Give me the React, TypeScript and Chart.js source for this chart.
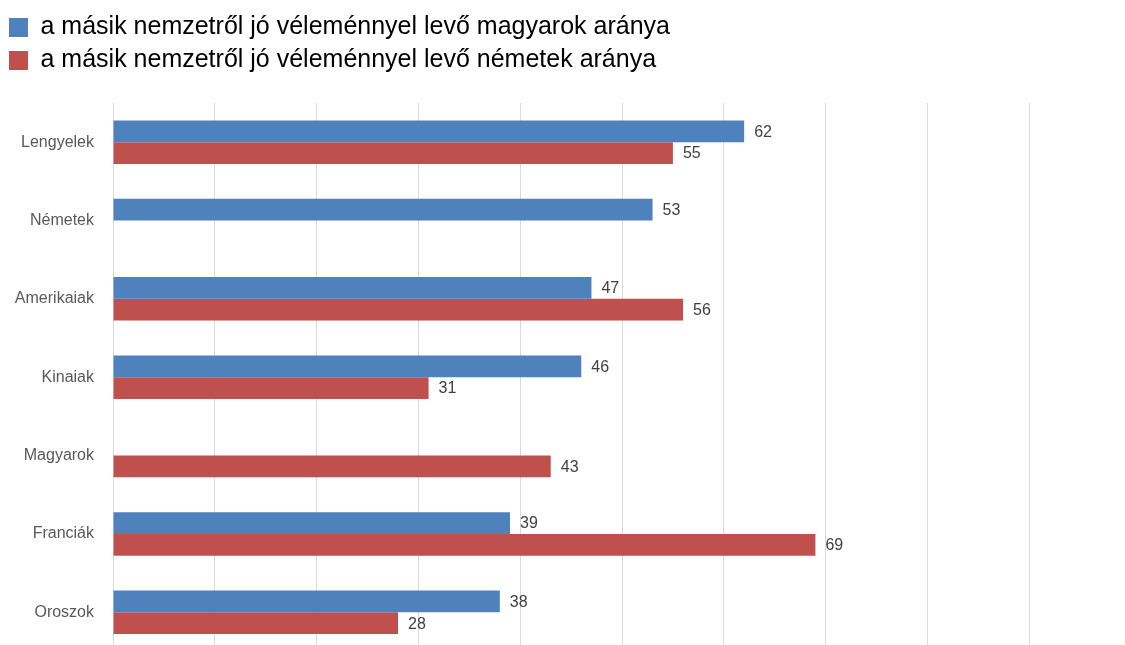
import React, { useEffect, useRef } from "react";
import { Chart, registerables } from "chart.js";

Chart.register(...registerables);

const categories = ["Lengyelek", "Németek", "Amerikaiak", "Kinaiak", "Magyarok", "Franciák", "Oroszok"];
const seriesLabels = [
  "a másik nemzetről jó véleménnyel levő magyarok aránya",
  "a másik nemzetről jó véleménnyel levő németek aránya",
];
const hungarianValues: (number | null)[] = [62, 53, 47, 46, null, 39, 38];
const germanValues: (number | null)[] = [55, null, 56, 31, 43, 69, 28];
const seriesColors = ["#4F81BD", "#C0504D"];
const axisMin = 0;
const axisMax = 100;
const axisStep = 10;

const FONT = "'Liberation Sans', Arial, sans-serif";

const legendSpacer = {
  id: "legendSpacer",
  beforeInit(chart: any) {
    const legend = chart.legend;
    if (!legend) return;
    const origFit = legend.fit;
    legend.fit = function () {
      origFit.call(this);
      this.height += 20;
    };
  },
};

const valueLabels = {
  id: "valueLabels",
  afterDatasetsDraw(chart: any) {
    const ctx = chart.ctx;
    ctx.save();
    ctx.font = `16px ${FONT}`;
    ctx.fillStyle = "#404040";
    ctx.textAlign = "left";
    ctx.textBaseline = "middle";
    chart.data.datasets.forEach((ds: any, di: number) => {
      const meta = chart.getDatasetMeta(di);
      meta.data.forEach((bar: any, i: number) => {
        const v = ds.data[i];
        if (v === null || v === undefined) return;
        ctx.fillText(String(v), bar.x + 10, bar.y + 1);
      });
    });
    ctx.restore();
  },
};

export default function App() {
  const ref = useRef<HTMLCanvasElement | null>(null);

  useEffect(() => {
    if (!ref.current) return;
    const chart = new Chart(ref.current, {
      type: "bar",
      data: {
        labels: categories,
        datasets: [
          {
            label: seriesLabels[0],
            data: hungarianValues,
            backgroundColor: seriesColors[0],
            borderWidth: 0,
            categoryPercentage: 0.555,
            barPercentage: 1,
          },
          {
            label: seriesLabels[1],
            data: germanValues,
            backgroundColor: seriesColors[1],
            borderWidth: 0,
            categoryPercentage: 0.555,
            barPercentage: 1,
          },
        ],
      },
      options: {
        indexAxis: "y",
        responsive: false,
        animation: false,
        layout: { padding: { top: 7, left: 1, right: 9, bottom: 10 } },
        plugins: {
          legend: {
            position: "top",
            align: "start",
            labels: {
              boxWidth: 19,
              boxHeight: 19,
              padding: 8,
              color: "#000000",
              font: { family: FONT, size: 25 },
            },
          },
          tooltip: { enabled: false },
        },
        scales: {
          x: {
            min: axisMin,
            max: axisMax,
            ticks: { display: false, stepSize: axisStep },
            grid: { color: "#D9D9D9", lineWidth: 1, drawTicks: false },
            border: { display: false },
          },
          y: {
            ticks: { color: "#595959", font: { family: FONT, size: 16 }, padding: 19 },
            grid: { display: false, drawTicks: false },
            border: { display: false },
            afterFit(scale: any) {
              scale.width = 112;
            },
          },
        },
      },
      plugins: [legendSpacer, valueLabels],
    });
    return () => chart.destroy();
  }, []);

  return (
    <div
      style={{
        position: "fixed",
        left: 0,
        top: 0,
        width: 1125,
        height: 645,
        overflow: "hidden",
        background: "#ffffff",
      }}
    >
      <canvas ref={ref} width={1140} height={680} style={{ display: "block" }} />
    </div>
  );
}
